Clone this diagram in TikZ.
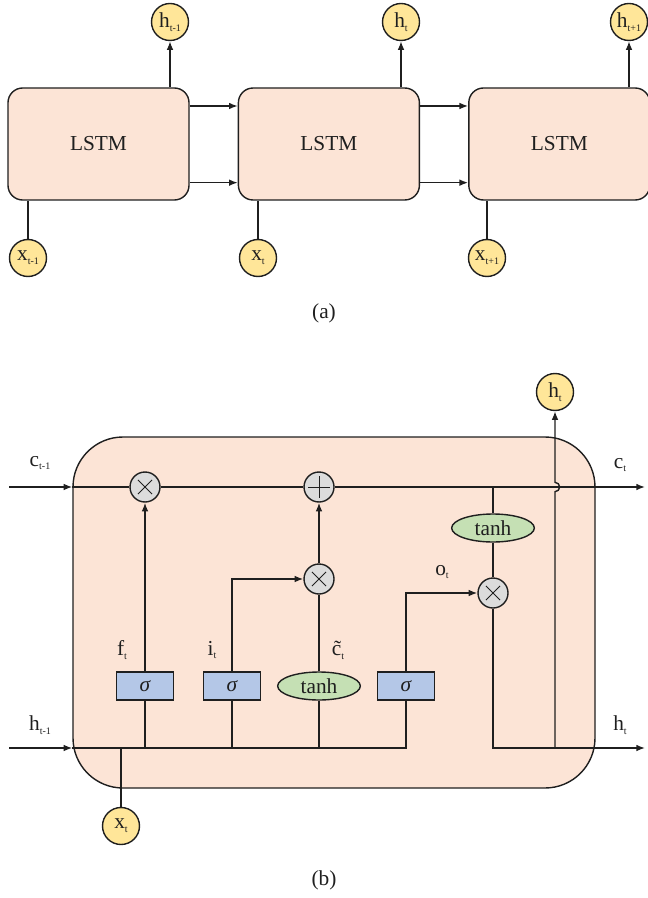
\documentclass[tikz,border=0pt]{standalone}
\usepackage{fontspec}
\setmainfont{Liberation Serif}
\usetikzlibrary{arrows.meta,positioning,shapes.geometric}
\definecolor{peach}{HTML}{FCE4D6}
\definecolor{gold}{HTML}{FFE699}
\definecolor{opgray}{HTML}{DCDCDC}
\definecolor{gateblue}{HTML}{B4C7E7}
\definecolor{actgreen}{HTML}{C5E0B4}
\newcommand{\lsub}[1]{\raisebox{-0.4ex}{\fontsize{7.5pt}{8pt}\selectfont #1}}

\begin{document}
\begin{tikzpicture}[
  x=0.75pt, y=-0.75pt,
  node distance=36pt,
  font=\fontsize{16pt}{18pt}\selectfont,
  line width=1.05pt, color=black!88,
  box/.style={draw, fill=peach, rounded corners=11pt, minimum width=135.75pt, minimum height=84pt},
  cell/.style={draw, fill=peach, rounded corners=37.5pt, minimum width=391.5pt, minimum height=263.25pt},
  io/.style={circle, draw, fill=gold, minimum size=27.75pt, inner sep=0pt},
  op/.style={circle, draw, fill=opgray, minimum size=22.5pt, inner sep=0pt},
  mul/.style={op, path picture={\draw[line width=0.6pt] (path picture bounding box.center) ++(45:7.5pt) -- ++(225:15pt)
      (path picture bounding box.center) ++(135:7.5pt) -- ++(-45:15pt);}},
  plus/.style={op, path picture={\draw[line width=0.6pt] (path picture bounding box.center) ++(8pt,0pt) -- ++(-16pt,0pt)
      (path picture bounding box.center) ++(0pt,8pt) -- ++(0pt,-16pt);}},
  gate/.style={draw, fill=gateblue, minimum width=42.75pt, minimum height=21pt, inner sep=0pt},
  act/.style={ellipse, draw, fill=actgreen, minimum width=62pt, minimum height=21pt, inner sep=0pt},
  arr/.style={-{Latex[length=6.5pt,width=5pt]}}
]
\useasboundingbox (0,0) rectangle (648,898);

% (a) unrolled chain
\node[box] (l1) at (98.5,144) {LSTM};
\node[box, right=of l1] (l2) {LSTM};
\node[box, right=of l2] (l3) {LSTM};
\node[io] (h1) at (170,22) {h\lsub{t-1}};
\node[io] (h2) at (401,22) {h\lsub{t}};
\node[io] (h3) at (629,22) {h\lsub{t+1}};
\node[io] (x1) at (28,258) {x\lsub{t-1}};
\node[io] (x2) at (258,258) {x\lsub{t}};
\node[io] (x3) at (487,258) {x\lsub{t+1}};
\node (capa) at (324,313) {(a)};

\draw[arr] (h1 |- l1.north) -- (h1);
\draw[arr] (h2 |- l2.north) -- (h2);
\draw[arr] (h3 |- l3.north) -- (h3);
\draw (x1) -- (x1 |- l1.south);
\draw (x2) -- (x2 |- l2.south);
\draw (x3) -- (x3 |- l3.south);
\draw[arr] ([yshift=28.5pt]l1.east) -- ([yshift=28.5pt]l2.west);
\draw[arr] ([yshift=-29pt]l1.east) -- ([yshift=-29pt]l2.west);
\draw[arr] ([yshift=28.5pt]l2.east) -- ([yshift=28.5pt]l3.west);
\draw[arr] ([yshift=-29pt]l2.east) -- ([yshift=-29pt]l3.west);

% (b) one cell
\node[cell] (cell) at (334,612.5) {};
\node[mul] (fx) at (145,487) {};
\node[plus] (pl) at (319,487) {};
\node[mul] (ix) at (319,579) {};
\node[mul] (ox) at (493,593) {};
\node[gate] (sf) at (145,686) {\itshape σ};
\node[gate] (si) at (232,686) {\itshape σ};
\node[act] (tc) at (319,686) {tanh};
\node[gate] (so) at (406,686) {\itshape σ};
\node[act] (th) at (493,528) {tanh};
\node[io] (ht) at (555,392) {h\lsub{t}};
\node[io] (xt) at (121,826) {x\lsub{t}};
\coordinate (cin) at (9,487);
\coordinate (cout) at (645,487);
\coordinate (hin) at (9,748);
\coordinate (hout) at (645,748);

\node (lf) at (122,650) {f\lsub{t}};
\node (li) at (212,650) {i\lsub{t}};
\node (lc) at (338,650) {\~{c}\lsub{t}};
\node (lo) at (442,572) {o\lsub{t}};
\node (lcin) at (40,463) {c\lsub{t-1}};
\node (lhin) at (40,725) {h\lsub{t-1}};
\node (lcout) at (620,465) {c\lsub{t}};
\node (lhout) at (620,725) {h\lsub{t}};
\node (capb) at (324,880) {(b)};

\draw[arr] (cin) -- (cin -| cell.west);
\draw (cin -| cell.west) -- (fx);
\draw (fx) -- (pl);
\draw[arr] (pl) -- (cout);
\draw[arr] (hin) -- (hin -| cell.west);
\draw (hin -| cell.west) -- (so |- hin) -- (so);
\draw (sf) -- (sf |- hin);
\draw (si) -- (si |- hin);
\draw (tc) -- (tc |- hin);
\draw (xt) -- (xt |- hin);
\draw[arr] (sf) -- (fx);
\draw[arr] (si) |- (ix);
\draw (tc) -- (ix);
\draw[arr] (ix) -- (pl);
\draw[arr] (so) |- (ox);
\draw (th |- pl) -- (th);
\draw (th) -- (ox);
\draw[arr] (ox) |- (hout);
\draw[arr] (ht |- hout) -- ([yshift=-3.5pt]ht |- pl) arc[start angle=-90, end angle=90, radius=3.5pt] -- (ht);
\end{tikzpicture}
\end{document}
